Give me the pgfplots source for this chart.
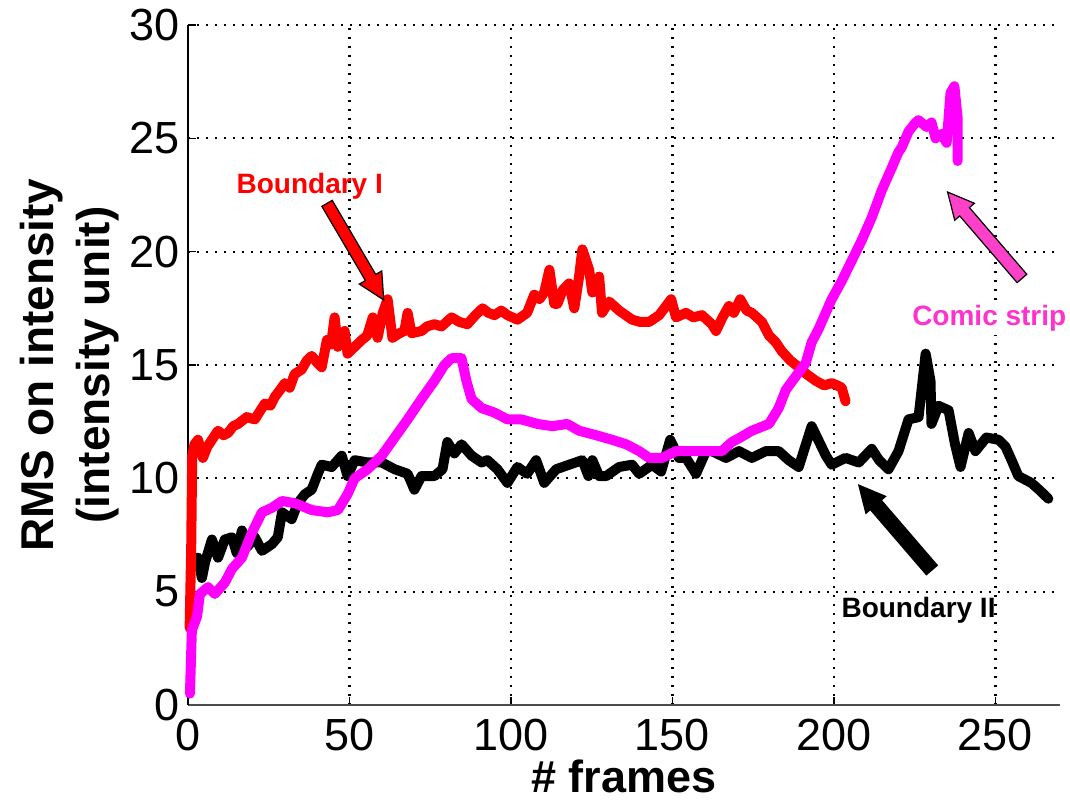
\documentclass[border=0pt]{standalone}
\usepackage{fontspec}
\setmainfont{Liberation Sans}
\usepackage{pgfplots}
\pgfplotsset{compat=1.18}
\definecolor{comic}{HTML}{FF33CC}
\definecolor{comicarrow}{HTML}{FF40C8}
\definecolor{mag}{HTML}{FF00FF}

\newcommand{\fatarrow}[6]{%
  \begin{scope}[shift={(#1)}, rotate=#2]
    \filldraw[fill=#3, draw=#4, line width=0.6pt, line join=miter]
      (0,0) -- (13pt,6.5pt) -- (13pt,#5) -- (#6,#5) -- (#6,-#5) -- (13pt,-#5) -- (13pt,-6.5pt) -- cycle;
  \end{scope}}

\begin{document}
\begin{tikzpicture}
\begin{axis}[name=ax, scale only axis, width=436pt, height=340pt,
  xmin=0, xmax=270, ymin=0, ymax=30,
  xtick={0,50,...,250}, ytick={0,5,...,30},
  axis x line=bottom, axis y line=left,
  axis line style={-, line width=1pt},
  x axis line style={draw=black!70},
  tick align=inside, major tick length=4pt,
  tick style={black, line width=0.8pt},
  grid=major, grid style={black, line width=1.1pt, dash pattern=on 1.1pt off 3.4pt},
  tick label style={font=\fontsize{22.5}{22.5}\selectfont},
  /pgf/number format/assume math mode=true,
  xticklabel style={inner sep=0pt, yshift=-7pt},
  yticklabel style={inner sep=0pt, xshift=-4pt},
  xlabel={\# frames}, ylabel={RMS on intensity\\(intensity unit)},
  xlabel style={font=\bfseries\fontsize{22.5}{22.5}\selectfont, inner sep=0pt, at={(axis description cs:0.5,0)}, anchor=base, yshift=-44pt},
  ylabel style={font=\bfseries\fontsize{23}{28}\selectfont, align=center, at={(axis description cs:-0.136,0.5)}, anchor=center},
  every axis plot/.append style={line width=5pt, line join=round, line cap=round},
  clip=false,
]
% Boundary II (black)
\addplot[black] coordinates {
(3.1,6.5)(4.3,5.6)(5.3,6.3)(7.4,7.3)(9.3,6.5)(11.4,7.3)(13.6,7.4)(15.1,6.7)(16.7,7.7)(18.5,7.0)
(20.7,7.4)(22.9,6.8)(26,7.1)(27.8,7.4)(29.1,8.5)(32.1,8.2)(34,8.9)(36.2,9.3)(38.3,9.5)(40.2,10.2)
(41.4,10.6)(44.5,10.5)(47.6,11.0)(49.4,10.1)(51.6,10.8)(55.6,10.7)(60,10.7)(64,10.4)(68,10.2)(70.1,9.5)
(72.3,10.1)(76.3,10.1)(78.8,10.4)(80.3,11.6)(82.5,11.1)(84.7,11.5)(87.8,11.0)(90.9,10.7)(92.7,10.8)(95.8,10.4)
(98.9,9.8)(102,10.5)(105,10.2)(107.8,10.8)(110.3,9.8)(114,10.4)(118,10.6)(122.1,10.8)(124,10.1)(125.2,10.8)
(127.3,10.1)(129.5,10.1)(133.5,10.5)(137.5,10.6)(139.7,10.2)(143.7,10.6)(146.5,10.3)(149.3,11.7)(152,10.9)(154.2,10.9)
(157.3,10.2)(160.4,11.2)(162.2,11.2)(166.6,10.9)(170.6,11.2)(174.6,10.9)(178.9,11.2)(182.9,11.2)(186,10.8)(189.1,10.5)
(193.1,12.3)(197.5,11.0)(199.3,10.6)(203.6,10.9)(207.7,10.7)(211.7,11.3)(214,10.8)(216.9,10.4)(220,11.2)(223.1,12.6)
(226.2,12.7)(228.4,15.5)(229.9,14.3)(230.2,12.4)(232.4,13.2)(235.5,13.0)(237.5,11.5)(239.2,10.5)(241.7,12.0)(243.8,11.2)
(247.2,11.8)(251,11.7)(253.1,11.4)(255,10.8)(257.1,10.1)(261.1,9.8)(263.5,9.5)(266.4,9.1)
};
% Boundary I (red)
\addplot[red] coordinates {
(0.5,3.4)(1,7)(1.3,11.0)(2,11.5)(3.1,11.7)(4.6,10.9)(6,11.4)(7.4,11.7)(9.3,12.1)(11,11.9)
(12.4,12.0)(14,12.3)(15.5,12.4)(18.2,12.7)(20.7,12.6)(22,12.9)(23.8,13.3)(25.5,13.2)(26.9,13.6)(28.5,13.9)
(30,14.2)(31.5,14.0)(33,14.6)(35.2,14.8)(36.8,15.2)(38.3,15.4)(40,15.1)(41.4,14.9)(43,16.1)(44.3,15.9)
(45.4,17.1)(46.4,15.8)(47.5,16.3)(48.5,16.5)(49.4,15.5)(51.6,15.8)(53.8,16.1)(55.5,16.3)(57.2,17.1)(58.7,16.2)
(60.3,17.3)(61.8,17.9)(63.3,16.2)(65.5,16.4)(67,16.5)(68,17.3)(69.2,16.4)(72.3,16.5)(74,16.7)(76.3,16.8)
(78.5,16.7)(81.6,17.1)(84,16.9)(86.5,16.8)(89,17.2)(91.2,17.5)(93,17.3)(94.9,17.2)(97,17.4)(98.9,17.2)
(102,17.0)(105,17.3)(107.2,18.1)(108.8,17.9)(110.3,18.2)(111.9,19.2)(113.4,17.7)(114.4,17.7)(116,18.3)(118,18.6)
(119.6,17.5)(121,18.8)(122.1,20.1)(124.2,19.2)(125.2,18.2)(127.3,18.9)(128.2,17.3)(130.4,17.8)(133.5,17.4)(137.5,17.0)
(140,16.9)(142.8,16.9)(145.9,17.2)(149.6,17.9)(151.1,17.1)(154.2,17.3)(156.5,17.1)(159.1,17.2)(162.2,16.8)(163.5,16.5)
(165.5,17.1)(167.5,17.6)(169,17.3)(171,17.9)(173,17.4)(174.6,17.3)(177.7,16.9)(179.9,16.3)(182,16.0)(183.9,15.6)
(186.5,15.2)(189.1,14.9)(191.5,14.6)(194.4,14.3)(197,14.1)(199.3,14.2)(201,14.1)(202.4,14.0)(203.6,13.4)
};
% Comic strip (magenta)
\addplot[mag] coordinates {
(0.6,0.5)(1.2,3.3)(2.8,3.9)(3.7,4.9)(6.2,5.2)(8.3,4.9)(11.4,5.4)(13.6,6.0)(16.7,6.5)(19.8,7.6)
(22.9,8.5)(26,8.7)(29.1,9.0)(33.1,8.9)(38.3,8.6)(43.3,8.5)(46.4,8.6)(49.4,9.3)(51.6,10.0)(55.6,10.4)
(60,11.0)(64,11.8)(68,12.6)(72.3,13.5)(76.3,14.3)(79.4,15.0)(81.6,15.3)(84.7,15.3)(86.2,14.3)(87.8,13.5)
(90.9,13.1)(94.9,12.9)(98.9,12.6)(103.2,12.6)(108.2,12.4)(112.8,12.3)(117.4,12.4)(121.1,12.1)(126.4,11.9)(131.3,11.7)
(135.7,11.5)(139.7,11.2)(142.8,10.9)(146.8,10.9)(151.1,11.2)(156.1,11.2)(161.3,11.2)(165.3,11.2)(168.4,11.6)(171,11.8)
(174.6,12.1)(179.9,12.4)(182.9,13.1)(185.1,13.9)(188.2,14.5)(191.3,15.1)(193.1,16.0)(195.3,16.6)(199.3,17.9)(202.4,18.7)
(205.5,19.6)(208.6,20.5)(211.7,21.5)(214.8,22.7)(217.9,23.7)(220,24.4)(221,24.6)(223.1,25.3)(225.3,25.7)(226.2,25.8)
(228.7,25.5)(230.2,25.7)(231.5,25.0)(233.3,25.2)(234.9,24.8)(236.1,27.0)(237.3,27.3)(238.3,25.9)(238.3,24.0)
};
\coordinate (tipA) at (axis cs:60.6,17.87);
\coordinate (tipC) at (axis cs:235.2,22.63);
\coordinate (tipB) at (axis cs:207.7,9.70);
\node[text=red, font=\bfseries\fontsize{14}{14}\selectfont] at (axis cs:37.7,22.9) {Boundary I};
\node[text=comic, fill=white, inner sep=2pt, font=\bfseries\fontsize{14}{14}\selectfont] at (axis cs:248.1,17.07) {Comic strip};
\node[text=black, font=\bfseries\fontsize{14}{14}\selectfont] at (axis cs:226.2,4.19) {Boundary II};
\end{axis}
\fatarrow{tipA}{120.4}{red}{black}{3pt}{56pt}
\fatarrow{tipC}{-49.3}{comicarrow}{black}{3.2pt}{57pt}
\fatarrow{tipB}{-49.3}{black}{black}{3.6pt}{56pt}
\pgfresetboundingbox
\path ([xshift=-94pt,yshift=-48pt]ax.south west) rectangle ([xshift=5pt,yshift=12.5pt]ax.north east);
\end{tikzpicture}
\end{document}
